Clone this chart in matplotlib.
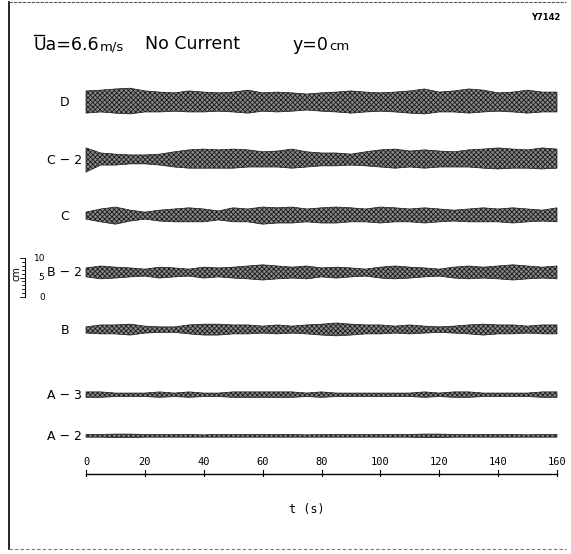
import matplotlib
matplotlib.use("Agg")
import matplotlib.pyplot as plt

# ---------------------------------------------------------------
# data (envelope of each wave trace, in cm)
# ---------------------------------------------------------------
t_s = [0, 5, 10, 15, 20, 25, 30, 35, 40, 45, 50, 55, 60, 65, 70, 75, 80,
       85, 90, 95, 100, 105, 110, 115, 120, 125, 130, 135, 140, 145, 150,
       155, 160]

labels = ["D", "C − 2", "C", "B − 2", "B", "A − 3", "A − 2"]

up_D = [3.1, 3.3, 3.6, 3.8, 3.1, 2.8, 2.6, 3.1, 2.8, 2.6, 2.8, 3.3, 2.6, 2.8, 2.6, 2.3, 2.6,
        2.8, 3.1, 2.8, 2.6, 2.8, 3.1, 3.6, 2.8, 3.1, 3.6, 3.3, 2.6, 2.8, 3.3, 2.8, 2.8]
lo_D = [2.6, 2.3, 2.6, 2.8, 2.3, 2.3, 2.1, 2.3, 2.3, 2.1, 2.3, 2.6, 2.1, 2.3, 2.1, 1.8, 2.1,
        2.3, 2.6, 2.3, 2.1, 2.3, 2.6, 2.8, 2.3, 2.3, 2.6, 2.3, 2.1, 2.3, 2.6, 2.3, 2.3]

up_C2 = [3.1, 1.8, 1.5, 1.3, 1.3, 1.5, 2.1, 2.6, 2.8, 2.6, 2.8, 2.6, 2.1, 2.3, 2.8, 2.1, 1.8,
         1.8, 1.5, 2.1, 2.6, 2.8, 2.3, 2.6, 2.3, 2.1, 2.6, 2.8, 3.1, 2.8, 2.6, 3.1, 2.8]
lo_C2 = [3.1, 1.3, 1.3, 1.0, 1.0, 1.3, 1.8, 2.1, 2.1, 2.1, 2.1, 1.8, 1.8, 1.8, 2.1, 1.8, 1.5,
         1.5, 1.3, 1.5, 1.8, 2.1, 1.8, 2.1, 1.8, 1.8, 1.8, 2.1, 2.3, 2.1, 2.1, 2.3, 2.1]

up_C = [1.0, 1.8, 2.3, 1.5, 1.0, 1.5, 1.8, 2.1, 1.8, 1.3, 2.1, 1.8, 2.3, 2.1, 2.3, 1.8, 2.1,
        2.3, 2.1, 1.8, 2.3, 2.1, 1.8, 2.1, 1.8, 1.5, 1.8, 2.1, 1.8, 2.1, 1.8, 1.5, 2.1]
lo_C = [0.8, 1.5, 2.1, 1.3, 0.8, 1.3, 1.5, 1.5, 1.5, 1.0, 1.5, 1.5, 2.1, 1.8, 1.8, 1.5, 1.8,
        1.8, 1.5, 1.5, 1.8, 1.5, 1.5, 1.8, 1.5, 1.3, 1.5, 1.5, 1.5, 1.8, 1.5, 1.3, 1.5]

up_B2 = [1.3, 1.8, 1.5, 1.3, 1.0, 1.5, 1.3, 1.0, 1.5, 1.3, 1.5, 1.8, 2.1, 1.8, 1.5, 1.8, 1.3,
         1.5, 1.3, 1.0, 1.5, 1.8, 1.5, 1.3, 1.0, 1.5, 1.8, 1.5, 1.8, 2.1, 1.8, 1.5, 1.8]
lo_B2 = [1.0, 1.5, 1.3, 1.0, 0.8, 1.3, 1.0, 0.8, 1.3, 1.0, 1.3, 1.5, 1.8, 1.5, 1.3, 1.5, 1.0,
         1.3, 1.0, 0.8, 1.3, 1.5, 1.3, 1.0, 0.8, 1.3, 1.5, 1.3, 1.5, 1.8, 1.5, 1.3, 1.5]

up_B = [0.8, 1.3, 1.3, 1.5, 1.0, 0.8, 0.8, 1.3, 1.5, 1.5, 1.3, 1.3, 1.0, 1.3, 1.0, 1.3, 1.5,
        1.8, 1.5, 1.3, 1.3, 1.0, 1.3, 1.0, 0.8, 1.0, 1.3, 1.5, 1.3, 1.3, 1.0, 1.3, 1.3]
lo_B = [0.8, 1.0, 1.0, 1.3, 0.8, 0.6, 0.6, 1.0, 1.3, 1.3, 1.0, 1.0, 0.8, 1.0, 0.8, 1.0, 1.3,
        1.5, 1.3, 1.0, 1.0, 0.8, 1.0, 0.8, 0.6, 0.8, 1.0, 1.3, 1.0, 1.0, 0.8, 1.0, 1.0]

up_A3 = [0.8, 0.8, 0.5, 0.5, 0.5, 0.8, 0.5, 0.8, 0.5, 0.5, 0.8, 0.8, 0.8, 0.8, 0.8, 0.5, 0.8,
         0.5, 0.5, 0.5, 0.5, 0.5, 0.5, 0.8, 0.5, 0.8, 0.8, 0.5, 0.5, 0.5, 0.5, 0.8, 0.8]
lo_A3 = [0.6, 0.6, 0.4, 0.4, 0.4, 0.6, 0.4, 0.6, 0.4, 0.4, 0.6, 0.6, 0.6, 0.6, 0.6, 0.4, 0.6,
         0.4, 0.4, 0.4, 0.4, 0.4, 0.4, 0.6, 0.4, 0.6, 0.6, 0.4, 0.4, 0.4, 0.4, 0.6, 0.6]

up_A2 = [0.4, 0.4, 0.5, 0.5, 0.4, 0.4, 0.4, 0.4, 0.3, 0.4, 0.4, 0.4, 0.4, 0.4, 0.4, 0.3, 0.4,
         0.4, 0.4, 0.4, 0.4, 0.4, 0.4, 0.5, 0.5, 0.4, 0.4, 0.4, 0.4, 0.4, 0.3, 0.4, 0.4]
lo_A2 = [0.3, 0.3, 0.4, 0.4, 0.3, 0.3, 0.3, 0.3, 0.3, 0.3, 0.3, 0.3, 0.3, 0.3, 0.3, 0.3, 0.3,
         0.3, 0.3, 0.3, 0.3, 0.3, 0.3, 0.4, 0.4, 0.3, 0.3, 0.3, 0.3, 0.3, 0.3, 0.3, 0.3]

uppers = [up_D, up_C2, up_C, up_B2, up_B, up_A3, up_A2]
lowers = [lo_D, lo_C2, lo_C, lo_B2, lo_B, lo_A3, lo_A2]

time_ticks = [0, 20, 40, 60, 80, 100, 120, 140, 160]
scale_ticks = [0, 5, 10]

# ---------------------------------------------------------------
# layout: the page is drawn in seconds (x) and cm (y, downward)
# ---------------------------------------------------------------
W, H = 571, 554
x0_px, x1_px = 86, 557          # t = 0 and t = 160 on the page
sx = (x1_px - x0_px) / 160.0    # pixels per second
sy = 3.9                        # pixels per cm

def P(xp, yp):
    # page pixel -> data coordinates
    return (xp - x0_px) / sx, yp / sy

base_px = [103, 160, 216, 273, 330, 395, 436]   # trace centre lines
label_right_px = [69, 82, 69, 82, 69, 82, 82]

plt.rcParams["hatch.linewidth"] = 0.6
fig = plt.figure(figsize=(W / 100, H / 100), dpi=100)
ax = fig.add_axes([0, 0, 1, 1])
ax.set_xlim(-x0_px / sx, (W - x0_px) / sx)
ax.set_ylim(H / sy, 0)
ax.axis("off")

# frame of the sheet
fx0, fy0 = P(9, 2)
fx1, fy1 = P(566, 549)
ax.plot([fx0, fx0], [fy0, fy1], color="black", lw=1.2)
ax.plot([fx0, fx1], [fy0, fy0], color="#555555", lw=0.8, ls=(0, (3, 1)))
ax.plot([fx0, fx1], [fy1, fy1], color="#777777", lw=0.8, ls=(0, (3, 2)))

# wave traces
for lab, up, lo, bp, lr in zip(labels, uppers, lowers, base_px, label_right_px):
    yb = bp / sy
    top = [yb - u for u in up]
    bot = [yb + l for l in lo]
    ax.fill_between(t_s, top, bot, facecolor="#8a8a8a", edgecolor="#1a1a1a",
                    hatch="xxxxxxx", lw=0.5)
    lx, ly = P(lr, bp)
    ax.text(lx, ly, lab, ha="right", va="center", fontsize=9,
            family="DejaVu Sans")

# header
tx, ty = P(33, 45)
ax.text(tx, ty, "Ua=6.6", fontsize=12.5, ha="left", va="center")
bx0, by = P(34, 35)
bx1, _ = P(44, 35)
ax.plot([bx0, bx1], [by, by], color="black", lw=1.0)
tx, ty = P(100, 47)
ax.text(tx, ty, "m/s", fontsize=9.5, ha="left", va="center")
tx, ty = P(145, 44)
ax.text(tx, ty, "No Current", fontsize=12.5, ha="left", va="center")
tx, ty = P(292, 45)
ax.text(tx, ty, "y=0", fontsize=12.5, ha="left", va="center")
tx, ty = P(329, 47)
ax.text(tx, ty, "cm", fontsize=9.5, ha="left", va="center")
tx, ty = P(560, 18)
ax.text(tx, ty, "Y7142", fontsize=6, ha="right", va="center", fontweight="bold")

# time axis
ay = 474 / sy
ax.plot([0, 160], [ay, ay], color="black", lw=1.0)
for tk in time_ticks:
    ax.plot([tk, tk], [ay + 1.5 / sy, ay - 4 / sy], color="black", lw=0.8)
    ax.text(tk, 462 / sy, str(tk), ha="center", va="center", fontsize=7.5,
            family="DejaVu Sans Mono")
tx, ty = P(307, 510)
ax.text(tx, ty, "t (s)", ha="center", va="center", fontsize=8.5,
        family="DejaVu Sans Mono")

# wave-height scale
s0_px = 297
rx, _ = P(25, 0)
ax.plot([rx, rx], [s0_px / sy, s0_px / sy - 10], color="black", lw=0.8)
for k in range(11):
    ln = 5 if k in scale_ticks else 3
    ax.plot([rx - ln / sx, rx], [s0_px / sy - k, s0_px / sy - k],
            color="black", lw=0.6)
for k, lxp in zip(scale_ticks, [39, 38, 34]):
    lx, _ = P(lxp, 0)
    ax.text(lx, s0_px / sy - k, str(k), ha="left", va="center", fontsize=6.5)
cx, cy = P(16, 274)
ax.text(cx, cy, "cm", rotation=90, ha="center", va="center", fontsize=7)

fig.savefig("out.png", dpi=100)
